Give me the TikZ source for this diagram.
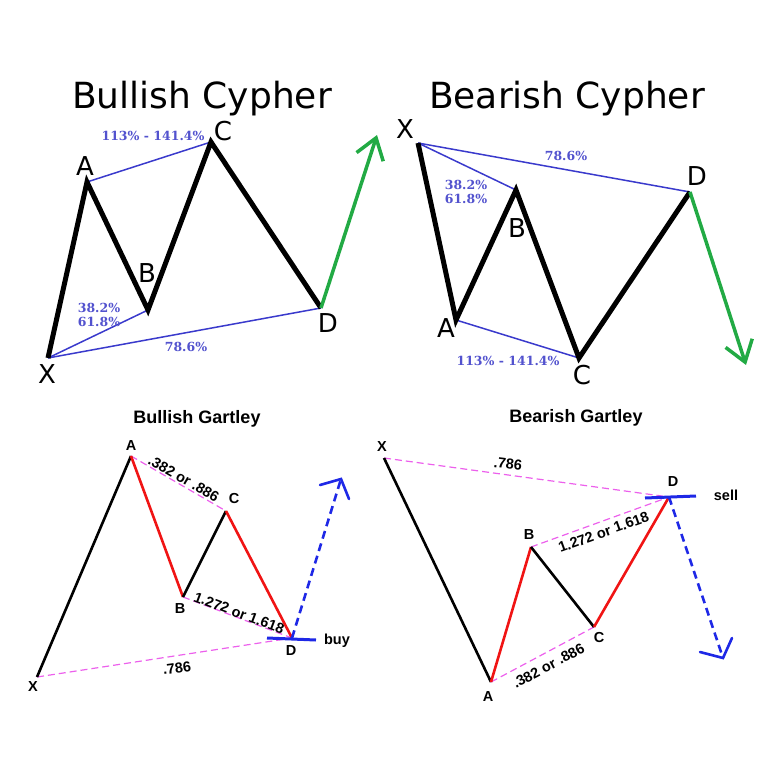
\documentclass[tikz,border=0pt]{standalone}
\usepackage{fontspec}
\setmainfont{DejaVu Sans}
\newfontfamily\cyfont{DejaVu Sans}
\newfontfamily\pctfont{DejaVu Serif}
\newfontfamily\gtfont{Liberation Sans}
\usepackage{tikz}
\usetikzlibrary{arrows.meta, positioning}
\definecolor{cyblue}{RGB}{58,58,204}
\definecolor{cytext}{RGB}{82,82,206}
\definecolor{cygreen}{RGB}{34,170,68}
\definecolor{gtred}{RGB}{240,20,20}
\definecolor{gtpink}{RGB}{236,96,236}
\definecolor{gtblue}{RGB}{30,40,230}
\tikzset{cyleg/.style={draw,line width=5pt,black},
    cyratio/.style={draw,line width=1.5pt,cyblue},
    cyarrow/.style={draw,line width=3.5pt,cygreen,-{Straight Barb[length=20pt,width=28pt]}},
    cyletter/.style={font=\cyfont\fontsize{26}{26}\selectfont,inner sep=0pt},
    cypct/.style={font=\pctfont\bfseries\fontsize{12.5}{14}\selectfont,text=cytext,inner sep=0pt,align=left},
    cytitle/.style={font=\cyfont\fontsize{36}{36}\selectfont,inner sep=0pt},
    gtleg/.style={draw,line width=2.6pt,black},
    gtred leg/.style={draw,line width=2.6pt,gtred},
    gtratio/.style={draw,line width=1.2pt,gtpink,dash pattern=on 7pt off 4pt},
    gtarrow/.style={draw,line width=2.6pt,gtblue,dash pattern=on 8pt off 5pt},
    gtbarb/.style={draw,line width=2.6pt,gtblue,line cap=round},
    gtbar/.style={draw,line width=3pt,gtblue},
    gtlabel/.style={font=\gtfont\bfseries\fontsize{14.5}{14.5}\selectfont,text=black,inner sep=1pt},
    gttitle/.style={font=\gtfont\bfseries\fontsize{18}{18}\selectfont,inner sep=0pt}}

\begin{document}
\begin{tikzpicture}[x=1pt,y=-1pt]
  \useasboundingbox (0,0) rectangle (768,768);

  % Bullish Cypher
  \node[cytitle] (bcT) at (202,99) {Bullish Cypher};
  \coordinate (bcX) at (48,358);
  \coordinate (bcA) at (87,182);
  \coordinate (bcB) at (148,310);
  \coordinate (bcC) at (211,142);
  \coordinate (bcD) at (321,308);
  \coordinate (bcE) at (377,135);
  \draw[cyratio] (bcA) -- (bcC);
  \draw[cyratio] (bcX) -- (bcB);
  \draw[cyratio] (bcX) -- (bcD);
  \draw[cyleg] (bcX) -- (bcA) -- (bcB) -- (bcC) -- (bcD);
  \draw[cyarrow] (bcD) -- (bcE);
  \node[cyletter] (bcXl) at (47,374) {X};
  \node[cyletter] (bcAl) at (85,166) {A};
  \node[cyletter] (bcBl) at (147,273) {B};
  \node[cyletter] (bcCl) at (223,131) {C};
  \node[cyletter] (bcDl) at (328,323) {D};
  \node[cypct] (bcAC) at (153,136) {113\% - 141.4\%};
  \node[cypct] (bcXB) at (99,315) {38.2\%\\61.8\%};
  \node[cypct] (bcXD) at (186,347) {78.6\%};

  % Bearish Cypher
  \node[cytitle] (scT) at (567,99) {Bearish Cypher};
  \coordinate (scX) at (418,143);
  \coordinate (scA) at (456,320);
  \coordinate (scB) at (516,190);
  \coordinate (scC) at (579,358);
  \coordinate (scD) at (690,192);
  \coordinate (scE) at (746,365);
  \draw[cyratio] (scX) -- (scD);
  \draw[cyratio] (scX) -- (scB);
  \draw[cyratio] (scA) -- (scC);
  \draw[cyleg] (scX) -- (scA) -- (scB) -- (scC) -- (scD);
  \draw[cyarrow] (scD) -- (scE);
  \node[cyletter] (scXl) at (405,129) {X};
  \node[cyletter] (scAl) at (446,328) {A};
  \node[cyletter] (scBl) at (517,228) {B};
  \node[cyletter] (scCl) at (582,375) {C};
  \node[cyletter] (scDl) at (697,176) {D};
  \node[cypct] (scXD) at (566,156) {78.6\%};
  \node[cypct] (scXB) at (466,192) {38.2\%\\61.8\%};
  \node[cypct] (scAC) at (508,361) {113\% - 141.4\%};

  % Bullish Gartley
  \node[gttitle] (bgT) at (197,419) {Bullish Gartley};
  \coordinate (bgX) at (37,677);
  \coordinate (bgA) at (131,456);
  \coordinate (bgB) at (183,597);
  \coordinate (bgC) at (226,511);
  \coordinate (bgD) at (292,638);
  \coordinate (bgE) at (341,479);
  \draw[gtratio] (bgA) -- node[gtlabel,sloped,above=0pt,pos=0.52] {.382 or .886} (bgC);
  \draw[gtratio] (bgB) -- node[gtlabel,sloped,above=-2pt] {1.272 or 1.618} (bgD);
  \draw[gtratio] (bgX) -- (bgD);
  \draw[gtleg] (bgX) -- (bgA);
  \draw[gtred leg] (bgA) -- (bgB);
  \draw[gtleg] (bgB) -- (bgC);
  \draw[gtred leg] (bgC) -- (bgD);
  \draw[gtarrow] (bgD) -- (bgE);
  \draw[gtbarb] (320,485) -- (bgE) -- (349,499);
  \draw[gtbar] (267,638) -- (316,640);
  \node[gtlabel] (bgXl) at (33,687) {X};
  \node[gtlabel] (bgAl) at (131,446) {A};
  \node[gtlabel] (bgBl) at (180,609) {B};
  \node[gtlabel] (bgCl) at (234,499) {C};
  \node[gtlabel] (bgDl) at (291,651) {D};
  \node[gtlabel,rotate=8] (bgXD) at (177,668) {.786};
  \node[gtlabel] (bgbuy) at (337,641) {buy};

  % Bearish Gartley
  \node[gttitle] (sgT) at (576,418) {Bearish Gartley};
  \coordinate (sgX) at (384,458);
  \coordinate (sgA) at (491,682);
  \coordinate (sgB) at (531,547);
  \coordinate (sgC) at (594,627);
  \coordinate (sgD) at (669,497);
  \coordinate (sgE) at (723,658);
  \draw[gtratio] (sgX) -- (sgD);
  \draw[gtratio] (sgB) -- node[gtlabel,sloped,below=4pt] {1.272 or 1.618} (sgD);
  \draw[gtratio] (sgA) -- node[gtlabel,sloped,below=6pt] {.382 or .886} (sgC);
  \draw[gtleg] (sgX) -- (sgA);
  \draw[gtred leg] (sgA) -- (sgB);
  \draw[gtleg] (sgB) -- (sgC);
  \draw[gtred leg] (sgC) -- (sgD);
  \draw[gtarrow] (sgD) -- (sgE);
  \draw[gtbarb] (700,652) -- (sgE) -- (732,638);
  \draw[gtbar] (645,498) -- (696,496);
  \node[gtlabel] (sgXl) at (382,447) {X};
  \node[gtlabel] (sgAl) at (488,697) {A};
  \node[gtlabel] (sgBl) at (529,535) {B};
  \node[gtlabel] (sgCl) at (599,638) {C};
  \node[gtlabel] (sgDl) at (673,482) {D};
  \node[gtlabel,rotate=-7] (sgXD) at (508,464) {.786};
  \node[gtlabel] (sgsell) at (726,495) {sell};
\end{tikzpicture}
\end{document}
